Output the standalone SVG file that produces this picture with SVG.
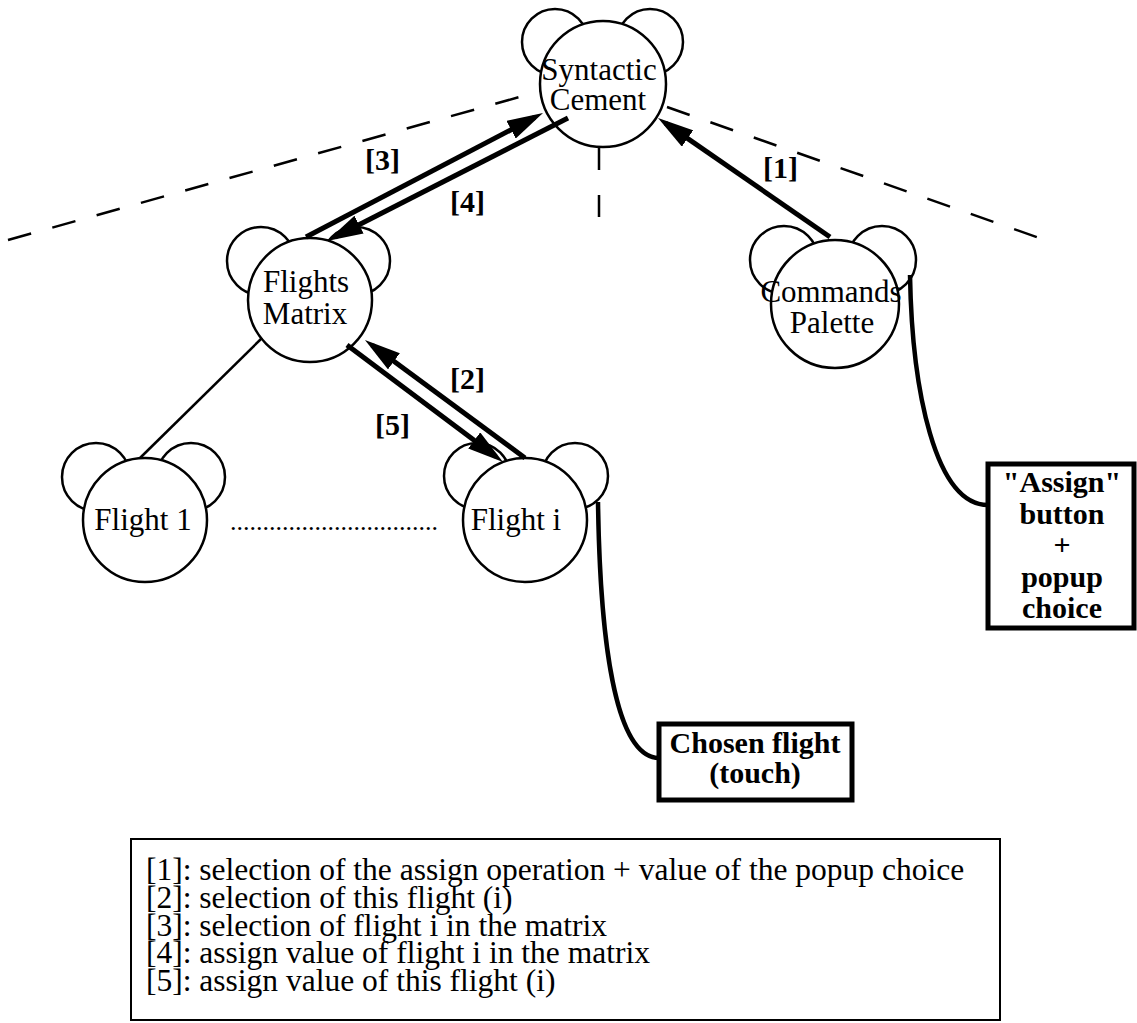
<svg xmlns="http://www.w3.org/2000/svg" width="1137" height="1023" viewBox="0 0 1137 1023">
<style>
.bg{fill:#fff}
.ear,.body{fill:#fff;stroke:#000;stroke-width:2.5}
.lbl{font-family:"Liberation Serif","Times New Roman",serif;font-size:31px;fill:#000;text-anchor:middle}
.num{font-family:"Liberation Serif","Times New Roman",serif;font-size:30px;font-weight:bold;fill:#000}
.boxt{font-family:"Liberation Serif","Times New Roman",serif;font-size:30px;font-weight:bold;fill:#000;text-anchor:middle}
.leg{font-family:"Liberation Serif","Times New Roman",serif;font-size:31.5px;fill:#000}
.dash{fill:none;stroke:#000;stroke-width:2.5;stroke-dasharray:24 22}
.arr{fill:none;stroke:#000;stroke-width:5;marker-end:url(#ah)}
.thin{fill:none;stroke:#000;stroke-width:2.5}
.call{fill:none;stroke:#000;stroke-width:4.5}
.note{fill:#fff;stroke:#000;stroke-width:5}
</style>
<defs>
<marker id="ah" viewBox="0 0 36 20" markerWidth="36" markerHeight="20" refX="27" refY="10" orient="auto" markerUnits="userSpaceOnUse">
<path d="M0,0 L36,10 L0,20 z" fill="#000"/>
</marker>
</defs>
<rect class="bg" x="0" y="0" width="1137" height="1023"/>

<g id="boundaries">
<line class="dash" x1="8" y1="240" x2="541" y2="91"/>
<line class="dash" x1="667" y1="107" x2="1045" y2="240"/>
<line class="dash" x1="599" y1="148" x2="599" y2="217" style="stroke-dasharray:22 25"/>
</g>

<g id="syntactic-cement">
<circle class="ear" cx="555" cy="42" r="33"/>
<circle class="ear" cx="650" cy="42" r="33"/>
<circle class="body" cx="603" cy="84" r="63"/>
<text class="lbl" x="599" y="80">Syntactic</text>
<text class="lbl" x="598" y="110">Cement</text>
</g>

<g id="flights-matrix">
<circle class="ear" cx="261" cy="261" r="34"/>
<circle class="ear" cx="356" cy="261" r="34"/>
<circle class="body" cx="310" cy="300" r="62"/>
<text class="lbl" x="306" y="292">Flights</text>
<text class="lbl" x="305" y="324">Matrix</text>
</g>

<g id="commands-palette">
<circle class="ear" cx="784" cy="260" r="34"/>
<circle class="ear" cx="882" cy="260" r="34"/>
<circle class="body" cx="835" cy="304" r="64"/>
<text class="lbl" x="831" y="302">Commands</text>
<text class="lbl" x="832" y="333">Palette</text>
</g>

<g id="flight-1">
<circle class="ear" cx="96" cy="477" r="34"/>
<circle class="ear" cx="191" cy="477" r="34"/>
<circle class="body" cx="145" cy="520" r="62"/>
<text class="lbl" x="143" y="530">Flight 1</text>
</g>

<g id="ellipsis">
<text x="230" y="530" style="font-family:'Liberation Serif',serif;font-size:26px">................................</text>
</g>

<g id="flight-i">
<circle class="ear" cx="477" cy="476" r="33"/>
<circle class="ear" cx="575" cy="476" r="33"/>
<circle class="body" cx="525" cy="520" r="62"/>
<text class="lbl" x="516" y="530">Flight i</text>
</g>

<g id="assign-box">
<rect class="note" x="988" y="464" width="146" height="164"/>
<text class="boxt" x="1062" y="492">"Assign"</text>
<text class="boxt" x="1062" y="524">button</text>
<text class="boxt" x="1062" y="555">+</text>
<text class="boxt" x="1062" y="587">popup</text>
<text class="boxt" x="1062" y="618">choice</text>
</g>

<g id="chosen-box">
<rect class="note" x="659" y="724" width="193" height="76"/>
<text class="boxt" x="755" y="753">Chosen flight</text>
<text class="boxt" x="755" y="783">(touch)</text>
</g>

<g id="connectors">
<line class="thin" x1="262" y1="338" x2="140" y2="458"/>
<line class="arr" x1="830" y1="237" x2="665.4" y2="123.1"/>
<line class="arr" x1="306" y1="237" x2="535" y2="117.2"/>
<line class="arr" x1="568" y1="118" x2="335" y2="236.9"/>
<line class="arr" x1="525" y1="458" x2="372.2" y2="345.3"/>
<line class="arr" x1="347" y1="345" x2="495.8" y2="456.6"/>
<path class="call" d="M910,275 C912,390 935,505 988,505"/>
<path class="call" d="M598,502 C600,640 615,758 659,758"/>
</g>

<g id="arrow-labels">
<text class="num" x="763" y="178">[1]</text>
<text class="num" x="450" y="389">[2]</text>
<text class="num" x="365" y="170">[3]</text>
<text class="num" x="450" y="212">[4]</text>
<text class="num" x="375" y="435">[5]</text>
</g>

<g id="legend">
<rect x="131" y="839" width="869" height="181" fill="#fff" stroke="#000" stroke-width="2"/>
<text class="leg" x="146" y="880">[1]: selection of the assign operation + value of the popup choice</text>
<text class="leg" x="146" y="908">[2]: selection of this flight (i)</text>
<text class="leg" x="146" y="936">[3]: selection of flight i in the matrix</text>
<text class="leg" x="146" y="963">[4]: assign value of flight i in the matrix</text>
<text class="leg" x="146" y="991">[5]: assign value of this flight (i)</text>
</g>
</svg>
